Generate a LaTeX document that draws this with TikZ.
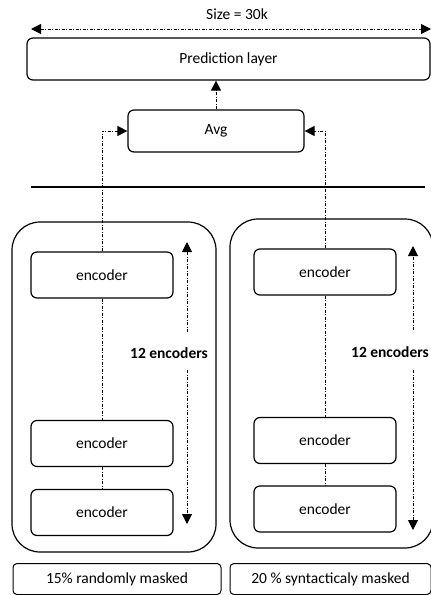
\documentclass[tikz,border=0pt]{standalone}
\usepackage{fontspec}
\setmainfont{Carlito}
\usetikzlibrary{arrows.meta}
\begin{document}
\begin{tikzpicture}[x=1pt,y=-1pt,
  font=\fontsize{15.5}{18}\selectfont,
  rbox/.style={draw, line width=1.2pt, rounded corners=6pt, inner sep=0pt},
  encbox/.style={rbox, minimum width=142pt, minimum height=46pt},
  stackbox/.style={draw, line width=1.2pt, rounded corners=28pt},
  tagbox/.style={draw, line width=1pt, rounded corners=4pt},
  dd/.style={line width=1pt, dash pattern=on 3pt off 1.5pt on 1pt off 1.5pt},
  tip/.style={-{Triangle[length=10pt,width=10pt]}},
  bold/.style={font=\fontsize{15.5}{18}\selectfont\bfseries}]
\useasboundingbox (0,0) rectangle (431,595);

% output side
\node (size) at (237,14) {Size = 30k};
\coordinate (sl) at (31,29);
\coordinate (sr) at (431,29);
\draw[dd, {Triangle[length=10pt,width=10pt]}-{Triangle[length=10pt,width=10pt]}] (sl) -- (sr);
\node[rbox, minimum width=403pt, minimum height=42pt] (pred) at (228.5,59) {Prediction layer};
\node[rbox, minimum width=176pt, minimum height=42pt] (avg) at (216,131) {Avg};
\draw[dd, tip] (avg.north) -- (avg.north |- pred.south);

% separator
\coordinate (hl) at (31,187);
\coordinate (hr) at (425,187);
\draw[line width=2.6pt] (hl) -- (hr);

% left stack
\draw[stackbox] (12,222) rectangle (216,552);
\node[encbox] (l1) at (102,275) {encoder};
\node[encbox] (l2) at (102,443.5) {encoder};
\node[encbox] (l3) at (102,512.5) {encoder};
\draw[dd] (l1.south) -- (l2.north);
\draw[dd] (l2.south) -- (l3.north);
\draw[dd, tip] (l1.north) |- (avg.west);
\node[bold] (lcount) at (169,353) {12 encoders};
\coordinate (lua) at (187,332);
\coordinate (lut) at (187,242);
\coordinate (lda) at (187,370);
\coordinate (ldt) at (187,524);
\draw[dd, tip] (lua) -- (lut);
\draw[dd, tip] (lda) -- (ldt);

% right stack
\draw[stackbox] (230,219) rectangle (433,548);
\node[encbox] (r1) at (325,272) {encoder};
\node[encbox] (r2) at (325,440.5) {encoder};
\node[encbox] (r3) at (325,509) {encoder};
\draw[dd] (r1.south) -- (r2.north);
\draw[dd] (r2.south) -- (r3.north);
\draw[dd, tip] (r1.north) |- (avg.east);
\node[bold] (rcount) at (390,352) {12 encoders};
\coordinate (rua) at (413,330);
\coordinate (rut) at (413,246);
\coordinate (rda) at (413,370);
\coordinate (rdt) at (413,530);
\draw[dd, tip] (rua) -- (rut);
\draw[dd, tip] (rda) -- (rdt);

% masking captions
\node[tagbox, minimum width=208pt, minimum height=31pt] (lcap) at (117,579) {15\% randomly masked};
\node[tagbox, minimum width=201pt, minimum height=31pt] (rcap) at (330.5,579) {20 \% syntacticaly masked};
\end{tikzpicture}
\end{document}
